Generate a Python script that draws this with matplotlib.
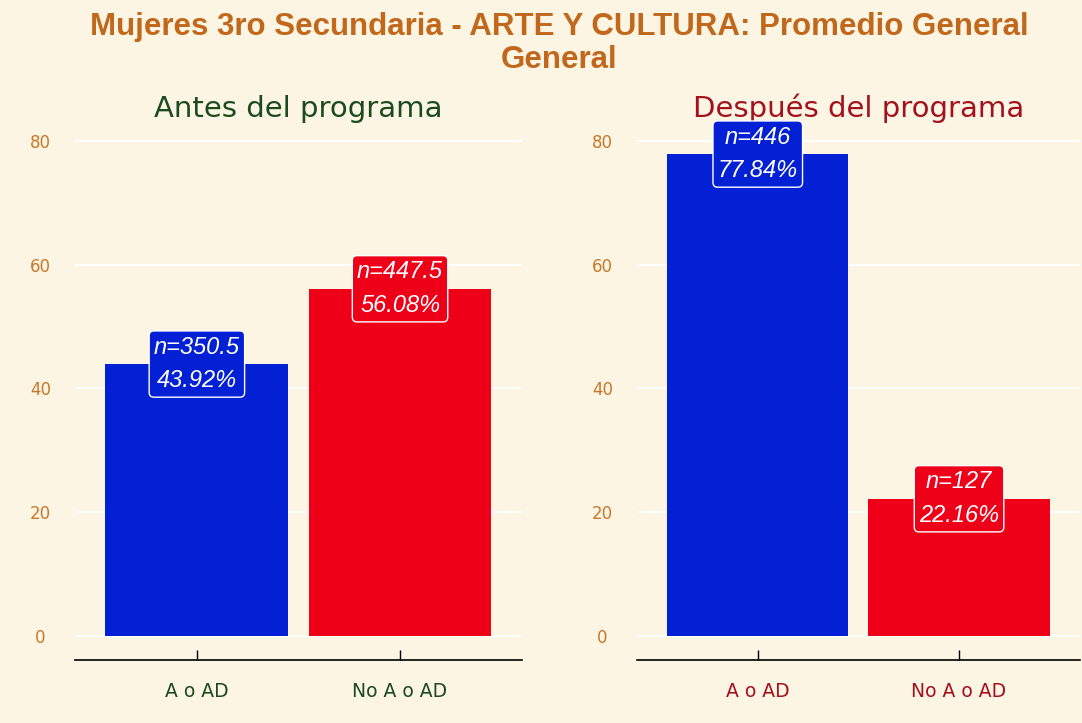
import matplotlib
matplotlib.use("Agg")
import matplotlib.pyplot as plt

categories = ["A o AD", "No A o AD"]
panels = ["Antes del programa", "Después del programa"]
pct_antes = [43.92, 56.08]
n_antes = ["350.5", "447.5"]
pct_despues = [77.84, 22.16]
n_despues = ["446", "127"]
yticks = [0, 20, 40, 60, 80]

title = "Mujeres 3ro Secundaria - ARTE Y CULTURA: Promedio General\nGeneral"

BG = "#FDF5E3"
BLUE = "#0420D4"
RED = "#EE0019"
bar_colors = [BLUE, RED]
panel_colors = ["#1A4A1E", "#A3101E"]
TICK_ORANGE = "#C8782A"
TITLE_COLOR = "#C2681C"

fig = plt.figure(figsize=(10.82, 7.23), dpi=100, facecolor=BG)
fig.text(0.5166, 0.983, title, ha="center", va="top", fontsize=22.5,
         fontweight="bold", color=TITLE_COLOR, family="Liberation Sans",
         linespacing=1.12)

axes_pos = [[0.0693, 0.0871, 0.4131, 0.7331], [0.5887, 0.0871, 0.4093, 0.7331]]
data = [(pct_antes, n_antes), (pct_despues, n_despues)]

for i, (pos, (pcts, ns)) in enumerate(zip(axes_pos, data)):
    ax = fig.add_axes(pos)
    ax.set_facecolor(BG)
    x = list(range(1, len(categories) + 1))
    ax.bar(x, pcts, width=0.9, color=bar_colors, zorder=2)
    ax.set_xlim(0.4, 2.6)
    ax.set_ylim(-3.89, 81.73)
    ax.set_yticks(yticks)
    ax.set_yticklabels([str(t) for t in yticks])
    ax.set_xticks(x)
    ax.set_xticklabels(categories)
    for sp in ["top", "right", "left"]:
        ax.spines[sp].set_visible(False)
    ax.spines["bottom"].set_color("black")
    ax.spines["bottom"].set_linewidth(1.2)
    ax.grid(axis="y", color="white", linewidth=1.3, zorder=0)
    ax.set_axisbelow(True)
    ax.tick_params(axis="y", length=0, pad=25, labelsize=12, labelcolor=TICK_ORANGE)
    for lab in ax.get_yticklabels():
        lab.set_horizontalalignment("center")
        lab.set_family("DejaVu Sans")
    ax.tick_params(axis="x", direction="in", length=7, width=1.0, pad=16,
                   labelsize=13.5, labelcolor=panel_colors[i])
    ax.set_title(panels[i], color=panel_colors[i], fontsize=21, pad=9,
                 family="DejaVu Sans")
    for xi, p, n, c in zip(x, pcts, ns, bar_colors):
        ax.text(xi, p, f"n={n}\n{p:.2f}%", ha="center", va="center",
                color="white", fontsize=17, style="italic",
                family="Liberation Sans", linespacing=1.6, zorder=4,
                bbox=dict(boxstyle="round,pad=0.2,rounding_size=0.2",
                          facecolor=c, edgecolor="white", linewidth=1.0))

fig.savefig("out.png", dpi=100, facecolor=BG)
